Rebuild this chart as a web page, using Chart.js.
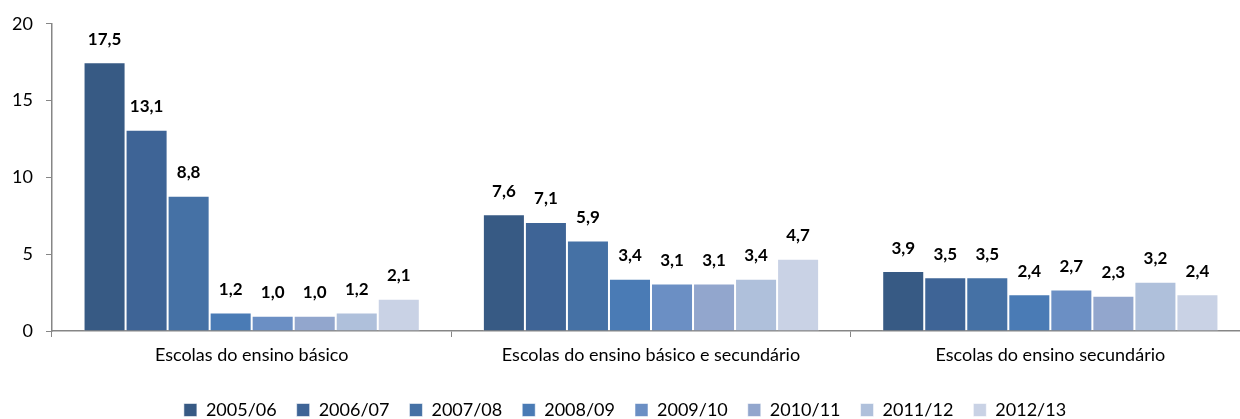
<!DOCTYPE html>
<html lang="pt">
<head>
<meta charset="UTF-8">
<title>Escolas</title>
<script src="https://cdn.jsdelivr.net/npm/chart.js"></script>
<style>
  html, body { margin: 0; padding: 0; background: #fff; overflow: hidden; }
  .wrap { position: relative; width: 1260px; height: 429px; }
</style>
</head>
<body>
<div class="wrap"><canvas id="chart"></canvas></div>
<script>
// categorias e anos
const categories = ['Escolas do ensino básico', 'Escolas do ensino básico e secundário', 'Escolas do ensino secundário'];
const years = ['2005/06', '2006/07', '2007/08', '2008/09', '2009/10', '2010/11', '2011/12', '2012/13'];
const colors = ['#375a84', '#3e6496', '#4571a5', '#4a7bb5', '#6b8fc4', '#92a6cd', '#afc0db', '#c9d2e5'];

// valores por ano (básico, básico e secundário, secundário)
const v2005 = [17.5, 7.6, 3.9];
const v2006 = [13.1, 7.1, 3.5];
const v2007 = [8.8, 5.9, 3.5];
const v2008 = [1.2, 3.4, 2.4];
const v2009 = [1.0, 3.1, 2.7];
const v2010 = [1.0, 3.1, 2.3];
const v2011 = [1.2, 3.4, 3.2];
const v2012 = [2.1, 4.7, 2.4];
const series = [v2005, v2006, v2007, v2008, v2009, v2010, v2011, v2012];

const yTicks = [0, 5, 10, 15, 20];

const FONT = 'Lato, "Liberation Sans", sans-serif';

// etiquetas de valores por cima das barras
const valueLabels = {
  id: 'valueLabels',
  afterDatasetsDraw(chart) {
    const ctx = chart.ctx;
    ctx.save();
    ctx.font = 'bold 17px ' + FONT;
    ctx.fillStyle = '#000';
    ctx.textAlign = 'center';
    ctx.textBaseline = 'middle';
    chart.data.datasets.forEach((ds, i) => {
      chart.getDatasetMeta(i).data.forEach((bar, j) => {
        const txt = ds.data[j].toFixed(1).replace('.', ',');
        ctx.fillText(txt, bar.x, bar.y - 23);
      });
    });
    ctx.restore();
  }
};

const ctx = document.getElementById('chart').getContext('2d');
new Chart(ctx, {
  type: 'bar',
  data: {
    labels: categories,
    datasets: years.map((y, i) => ({
      label: y,
      data: series[i],
      backgroundColor: colors[i],
      borderColor: 'rgba(255,255,255,0.55)',
      borderWidth: 1,
      categoryPercentage: 0.842,
      barPercentage: 1
    }))
  },
  options: {
    responsive: true,
    maintainAspectRatio: false,
    animation: false,
    layout: { padding: { top: 22, right: 10, left: 0, bottom: 0 } },
    plugins: {
      tooltip: { enabled: false },
      legend: {
        position: 'bottom',
        labels: {
          boxWidth: 13,
          boxHeight: 13,
          padding: 20,
          color: '#000',
          font: { family: FONT, size: 18 }
        }
      }
    },
    scales: {
      x: {
        grid: { drawOnChartArea: false, color: '#868686', tickLength: 6, offset: true },
        border: { color: '#868686', width: 1.5 },
        ticks: { color: '#000', font: { family: FONT, size: 18 }, padding: 7 },
        afterFit(s) { s.height = 50; }
      },
      y: {
        min: 0,
        max: 20,
        afterBuildTicks(s) { s.ticks = yTicks.map(v => ({ value: v })); },
        grid: { drawOnChartArea: false, color: '#868686', tickLength: 6 },
        border: { color: '#868686', width: 1.5 },
        ticks: { color: '#000', font: { family: FONT, size: 18 }, padding: 13 },
        afterFit(s) { s.width = 52; }
      }
    }
  },
  plugins: [valueLabels]
});
</script>
</body>
</html>
